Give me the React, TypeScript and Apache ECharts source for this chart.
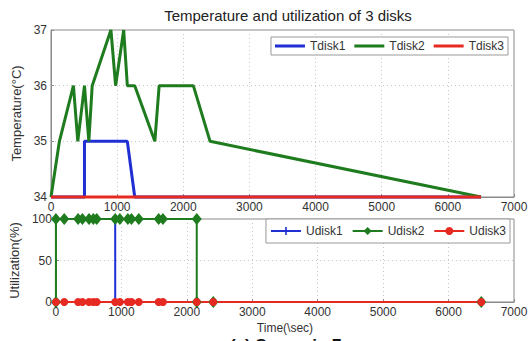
import React, { useEffect, useRef } from "react";
import * as echarts from "echarts";

const xTicks = [0, 1000, 2000, 3000, 4000, 5000, 6000, 7000];
const tempTicks = [34, 35, 36, 37];
const utilTicks = [0, 50, 100];

const tdisk1Times = [0, 506, 506, 1154, 1266, 6500];
const tdisk1Values = [34, 34, 35, 35, 34, 34];
const tdisk2Times = [0, 127, 339, 405, 506, 572, 623, 906, 977, 1099, 1154, 1266, 1570, 1635, 2152, 2405, 6500];
const tdisk2Values = [34, 35, 36, 35, 36, 35, 36, 37, 36, 37, 36, 36, 35, 36, 36, 35, 34];
const tdisk3Times = [0, 6500];
const tdisk3Values = [34, 34];

const udisk1Times = [0, 127, 339, 405, 506, 572, 623, 906, 906, 977, 1099, 1154, 1266, 1570, 1635, 2152, 2405, 6500];
const udisk1Values = [100, 100, 100, 100, 100, 100, 100, 100, 0, 0, 0, 0, 0, 0, 0, 0, 0, 0];
const udisk2Times = [0, 0, 127, 339, 405, 506, 572, 623, 906, 977, 1099, 1154, 1266, 1570, 1635, 2152, 2152, 2405, 6500];
const udisk2Values = [0, 100, 100, 100, 100, 100, 100, 100, 100, 100, 100, 100, 100, 100, 100, 100, 0, 0, 0];
const udisk3Times = [0, 127, 339, 405, 506, 572, 623, 906, 977, 1099, 1154, 1266, 1570, 1635, 2152, 2405, 6500];
const udisk3Values = [0, 0, 0, 0, 0, 0, 0, 0, 0, 0, 0, 0, 0, 0, 0, 0, 0];

const BLUE = "#1f2fd4";
const GREEN = "#1e7b1e";
const RED = "#e62a22";
const FONT = "Liberation Sans, Arial, sans-serif";
const PLUS = "path://M4,0 L6,0 L6,4 L10,4 L10,6 L6,6 L6,10 L4,10 L4,6 L0,6 L0,4 L4,4 Z";

const zip = (t: number[], v: number[]) => t.map((x, i) => [x, v[i]]);

export default function App() {
  const ref = useRef<HTMLDivElement>(null);
  useEffect(() => {
    if (!ref.current) return;
    const chart = echarts.init(ref.current, null, { renderer: "svg" });
    const axisCommon = {
      axisLine: { show: true, lineStyle: { color: "#8a8a8a", width: 1 } },
      axisTick: { show: true, inside: true, length: 3, lineStyle: { color: "#8a8a8a" } },
      splitLine: { show: true, lineStyle: { color: "#c4c4c4", type: [1, 3], width: 1 } },
      axisLabel: { color: "#333", fontSize: 12, fontFamily: FONT, margin: 4, formatter: (v: number) => String(v) },
    };
    const xAxisDef = (gi: number, name?: string) => ({
      type: "value",
      gridIndex: gi,
      min: xTicks[0],
      max: xTicks[xTicks.length - 1],
      interval: 1000,
      name: name || "",
      nameLocation: "middle",
      nameGap: 20,
      nameTextStyle: { color: "#333", fontSize: 12, fontFamily: FONT },
      ...axisCommon,
    });
    const legendCommon = {
      orient: "horizontal",
      itemWidth: 30,
      itemGap: 9,
      borderColor: "#999",
      borderWidth: 1,
      backgroundColor: "#fff",
      borderRadius: 0,
      textStyle: { fontSize: 12, color: "#333", fontFamily: FONT },
    };
    const option: any = {
      animation: false,
      backgroundColor: "#fff",
      title: {
        text: "Temperature and utilization of 3 disks",
        left: 283,
        top: 3,
        textAlign: "center",
        textStyle: { fontSize: 15, fontWeight: "normal", color: "#222", fontFamily: FONT },
      },
      grid: [
        { left: 51, right: 17, top: 30, height: 167, show: true, borderColor: "#8a8a8a", borderWidth: 1, backgroundColor: "#fff" },
        { left: 51, right: 17, top: 219, height: 83, show: true, borderColor: "#8a8a8a", borderWidth: 1, backgroundColor: "#fff" },
      ],
      xAxis: [xAxisDef(0), xAxisDef(1, "Time(\\sec)")],
      yAxis: [
        {
          type: "value",
          gridIndex: 0,
          min: tempTicks[0],
          max: tempTicks[tempTicks.length - 1],
          interval: 1,
          name: "Temperature(°C)",
          nameLocation: "middle",
          nameGap: 23,
          nameTextStyle: { color: "#333", fontSize: 13, fontFamily: FONT },
          ...axisCommon,
        },
        {
          type: "value",
          gridIndex: 1,
          min: utilTicks[0],
          max: utilTicks[utilTicks.length - 1],
          interval: 50,
          name: "Utilization(%)",
          nameLocation: "middle",
          nameGap: 26,
          nameTextStyle: { color: "#333", fontSize: 13, fontFamily: FONT },
          ...axisCommon,
        },
      ],
      legend: [
        {
          ...legendCommon,
          data: ["Tdisk1", "Tdisk2", "Tdisk3"],
          right: 23,
          top: 37,
          itemHeight: 3,
          padding: [3, 4],
          icon: "rect",
        },
        {
          ...legendCommon,
          data: ["Udisk1", "Udisk2", "Udisk3"],
          right: 21,
          top: 219,
          itemHeight: 10,
          padding: [6, 4],
        },
      ],
      series: [
        { name: "Tdisk1", type: "line", xAxisIndex: 0, yAxisIndex: 0, data: zip(tdisk1Times, tdisk1Values), showSymbol: false, symbol: "none", clip: false, lineStyle: { color: BLUE, width: 3 }, itemStyle: { color: BLUE } },
        { name: "Tdisk2", type: "line", xAxisIndex: 0, yAxisIndex: 0, data: zip(tdisk2Times, tdisk2Values), showSymbol: false, symbol: "none", clip: false, lineStyle: { color: GREEN, width: 3 }, itemStyle: { color: GREEN } },
        { name: "Tdisk3", type: "line", xAxisIndex: 0, yAxisIndex: 0, data: zip(tdisk3Times, tdisk3Values), showSymbol: false, symbol: "none", clip: false, lineStyle: { color: RED, width: 3 }, itemStyle: { color: RED } },
        { name: "Udisk1", type: "line", xAxisIndex: 1, yAxisIndex: 1, data: zip(udisk1Times, udisk1Values), symbol: PLUS, symbolSize: 7, clip: false, lineStyle: { color: BLUE, width: 2 }, itemStyle: { color: BLUE } },
        { name: "Udisk2", type: "line", xAxisIndex: 1, yAxisIndex: 1, data: zip(udisk2Times, udisk2Values), symbol: "diamond", symbolSize: [10, 12], clip: false, lineStyle: { color: GREEN, width: 2 }, itemStyle: { color: GREEN } },
        { name: "Udisk3", type: "line", xAxisIndex: 1, yAxisIndex: 1, data: zip(udisk3Times, udisk3Values), symbol: "circle", symbolSize: 8, clip: false, lineStyle: { color: RED, width: 2 }, itemStyle: { color: RED } },
      ],
      graphic: [
        {
          type: "text",
          left: 230,
          top: 337,
          style: { text: "(a) Scenario 7", fontSize: 17, fontWeight: "bold", fill: "#111", fontFamily: FONT },
        },
      ],
    };
    chart.setOption(option);
    return () => chart.dispose();
  }, []);
  return <div ref={ref} style={{ width: 531, height: 341, position: "absolute", left: 0, top: 0 }} />;
}
